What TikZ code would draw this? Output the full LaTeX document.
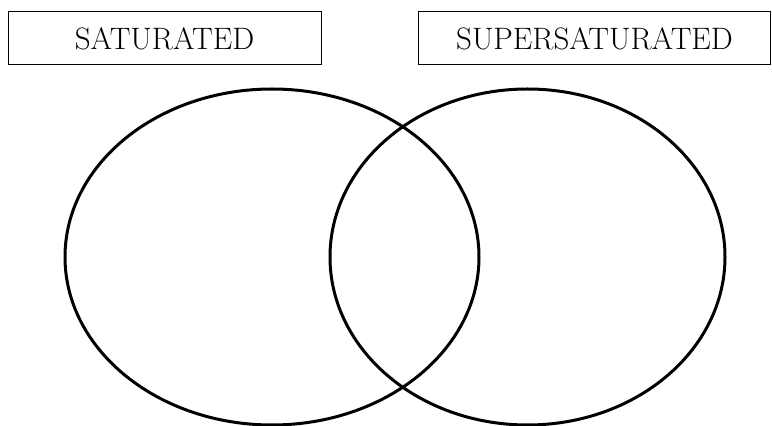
\documentclass[tikz,border=0pt]{standalone}
\begin{document}
\begin{tikzpicture}[x=1pt, y=1pt,
    label box/.style={draw, line width=1pt, minimum height=53pt, inner sep=0pt,
        font=\fontsize{31}{36}\selectfont}]
    \useasboundingbox (0,0) rectangle (772,426);

    % Headings
    \node[label box, minimum width=313pt] (sat) at (164.5,387.5) {SATURATED};
    \node[label box, minimum width=352pt] (super) at (594.5,387.5) {SUPERSATURATED};

    % Circles
    \draw[line width=3pt] (272,169) ellipse (207 and 168);
    \draw[line width=3pt] (527.5,169) ellipse (197.5 and 168);
\end{tikzpicture}
\end{document}
